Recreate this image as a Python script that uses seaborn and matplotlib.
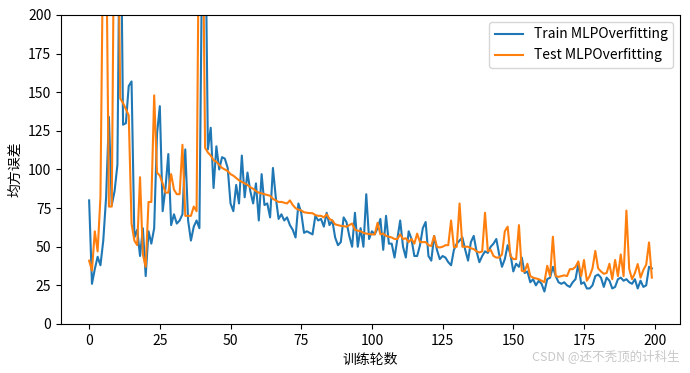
import numpy as np
import pandas as pd
import matplotlib
matplotlib.use("Agg")
import matplotlib.pyplot as plt
import seaborn as sns

# per-epoch mean squared error
train_mse = [
    80, 26, 35.5, 43.5, 38, 54, 82, 134, 77, 86,
    103, 300, 129, 130, 154, 157, 56, 61, 44, 62,
    31, 60, 52, 62, 123, 141, 73, 88, 110, 64,
    71, 65, 67, 71, 113, 67, 54, 63, 67, 62,
    250, 280, 113, 127, 88, 115, 100, 108, 107, 101,
    78, 73, 90, 78, 109, 82, 98, 86, 78, 91,
    67, 97, 77, 78, 69, 101, 82, 68, 71, 67,
    69, 64, 61, 56, 78, 72, 59, 60, 59, 58,
    70, 67, 68, 63, 72, 64, 67, 56, 51, 53,
    69, 66, 57, 50, 72, 50, 62, 50, 84, 55,
    60, 58, 62, 68, 48, 70, 52, 52, 43, 55,
    67, 50, 43, 60, 55, 44, 44, 51, 62, 66,
    44, 41, 57, 48, 42, 44, 43, 40, 38, 48,
    52, 54, 56, 48, 41, 53, 57, 47, 40, 44,
    47, 46, 50, 52, 55, 45, 37, 42, 51, 45,
    34, 39, 37, 43, 33, 34, 27, 29, 25, 28,
    26, 21, 29, 30, 37, 31, 27, 26, 27, 25,
    24, 27, 29, 39, 26, 27, 23, 23, 25, 31,
    32, 30, 24, 30, 28, 23, 24, 29, 30, 28,
    29, 27, 26, 29, 23, 28, 24, 25, 37, 36,
]
test_mse = [
    41, 34.5, 60, 47, 82, 260, 260, 76, 76, 300,
    300, 146, 143, 139, 135, 65, 54, 51, 95, 45,
    37, 79, 79, 148, 98, 96, 91, 85, 85, 97,
    87, 84, 84, 116, 70, 70, 70, 76, 73, 300,
    300, 114, 111, 109, 106, 105, 103, 101, 100, 99,
    97, 96, 94.5, 93, 92, 91, 90, 88.5, 87.5, 86,
    85, 84.5, 84, 83.5, 83, 81, 80, 79, 79, 78.5,
    78, 80, 77, 75, 74, 73.5, 72.3, 72, 71.8, 71.7,
    70.5, 70, 70, 69, 71, 68, 67, 64.5, 64, 63.5,
    63.3, 63, 64, 65, 61, 60.4, 60, 59, 58.5, 58.2,
    58, 58, 65.5, 58, 58.5, 57, 56.5, 56, 55, 55,
    58, 55, 55.5, 53, 55, 52, 58.5, 53, 53, 53,
    51, 50.5, 57, 50, 49.5, 50, 51, 51, 67, 49.6,
    50, 78, 50, 50, 50, 49, 48.5, 47, 46.3, 47,
    72, 47, 48, 44, 43, 43, 45, 60, 63, 44,
    42, 42, 64, 34.4, 34, 39, 31, 30, 29.5, 29,
    28, 27, 37.7, 31, 56.5, 31, 30.5, 31, 31.5, 31,
    35.5, 35.5, 37, 40.5, 31, 41.4, 28, 31, 36, 47.3,
    36, 34, 32.5, 33, 39, 29, 41.4, 31, 45, 31,
    73.4, 35.5, 29, 33, 38.8, 30, 35, 38.4, 52.8, 30,
]
series_names = ["Train MLPOverfitting", "Test MLPOverfitting"]
y_ticks = [0, 25, 50, 75, 100, 125, 150, 175, 200]

epochs = np.arange(len(train_mse))
df = pd.DataFrame({
    "epoch": np.concatenate([epochs, epochs]),
    "mse": train_mse + test_mse,
    "series": [series_names[0]] * len(train_mse) + [series_names[1]] * len(test_mse),
})

plt.rcParams["font.family"] = ["Noto Sans CJK SC", "DejaVu Sans"]
plt.rcParams["axes.unicode_minus"] = False

fig, ax = plt.subplots(figsize=(6.9, 3.73), dpi=100)
fig.subplots_adjust(left=0.0884, right=0.9855, bottom=0.1314, top=0.9598)

sns.lineplot(data=df, x="epoch", y="mse", hue="series", hue_order=series_names,
             palette=["#1f77b4", "#ff7f0e"], linewidth=1.5, ax=ax)

ax.set_ylim(0, 200)
ax.set_yticks(y_ticks)
ax.set_xlabel("训练轮数")
ax.set_ylabel("均方误差")
ax.legend(title=None, loc="upper right")

fig.text(0.985, 0.028, "CSDN @还不秃顶的计科生", ha="right", va="bottom",
         fontsize=9, color="#c8c8c8")

plt.savefig("out.png", dpi=100)
